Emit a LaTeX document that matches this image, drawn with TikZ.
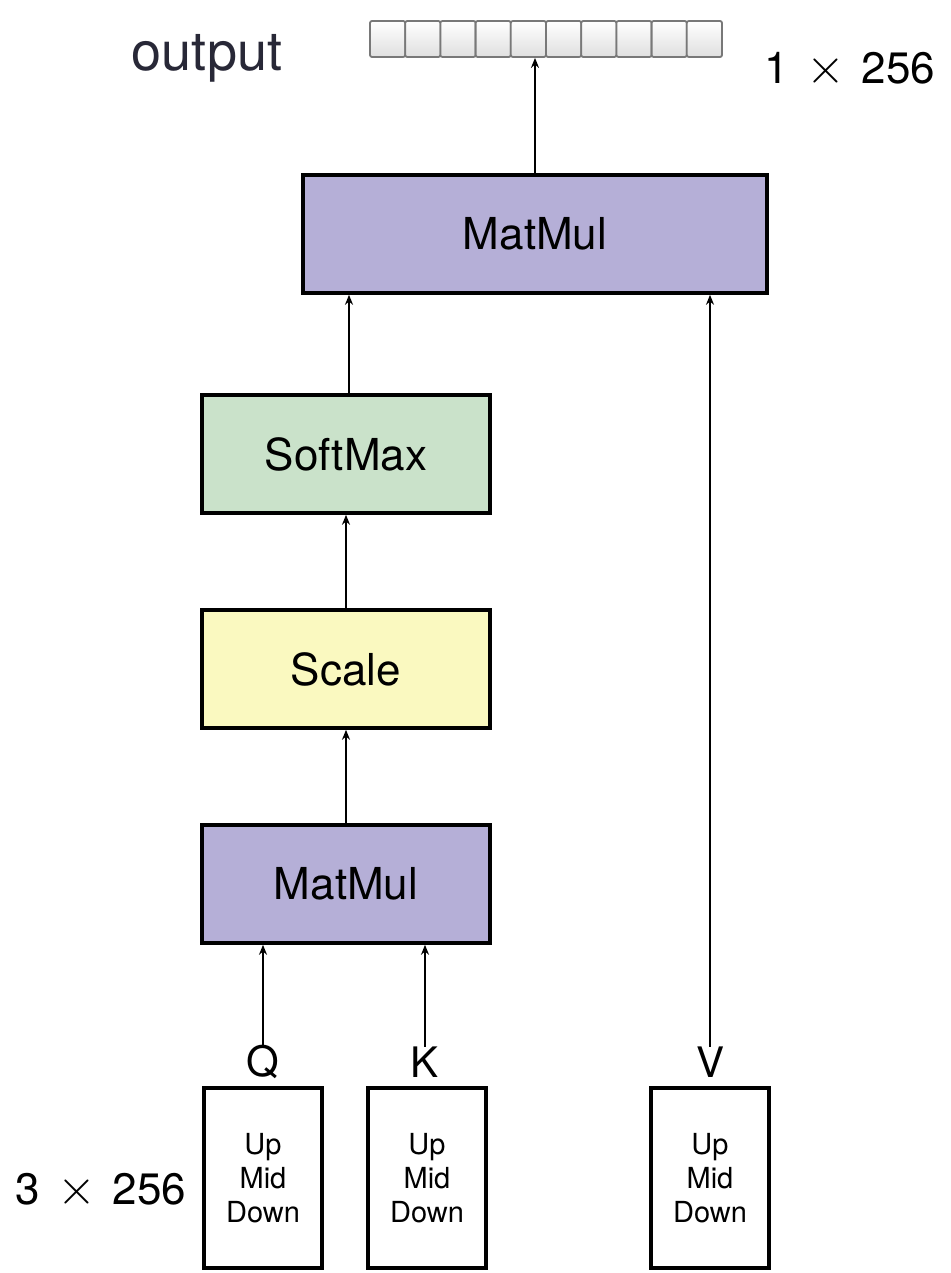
\documentclass[tikz,border=0pt]{standalone}
\usepackage{fontspec}
\usepackage{graphicx}
\setmainfont{TeX Gyre Heros}
\usetikzlibrary{arrows.meta,positioning}
\definecolor{mmfill}{RGB}{181,175,215}
\definecolor{smfill}{RGB}{202,226,202}
\definecolor{scfill}{RGB}{250,249,192}
\definecolor{cellline}{RGB}{120,120,120}
\newcommand{\bigtimes}{\hspace*{17pt}\scalebox{5}{\fontsize{10}{10}\selectfont$\times$}\hspace*{17pt}}
\tikzset{
  opbox/.style={draw=black, line width=3.6pt, minimum height=118pt, inner sep=0pt,
    font=\fontsize{44}{50}\selectfont},
  inbox/.style={draw=black, line width=3.6pt, minimum width=118pt, minimum height=180pt,
    inner sep=0pt, align=center, font=\fontsize{29}{34}\selectfont},
  lab/.style={inner sep=0pt, font=\fontsize{44}{50}\selectfont},
  cell/.style={draw=cellline, line width=1.8pt, minimum width=35.2pt, minimum height=36pt,
    inner sep=0pt, top color=white, bottom color=gray!25, rounded corners=2pt},
  conn/.style={line width=2.8pt, -{Stealth[length=10pt,width=8pt]}},
}
\begin{document}
\begin{tikzpicture}[x=1pt,y=-1pt]
\useasboundingbox (0,0) rectangle (950,1273);
% output cells
\foreach \i in {0,...,9}{
  \node[cell] (c\i) at ({370+35.2*\i+17.6},39) {};
}
\node[lab, font=\fontsize{54}{60}\selectfont, text={rgb,255:red,40;green,40;blue,55}, anchor=base] (outlab) at (207,71) {output};
\node[lab, anchor=base] (outdim) at (850,84) {1\bigtimes 256};
% operation boxes
\node[opbox, fill=mmfill, minimum width=464pt] (mm1) at (535,234) {MatMul};
\node[opbox, fill=smfill, minimum width=288pt] (sm) at (346,454) {SoftMax};
\node[opbox, fill=scfill, minimum width=288pt] (sc) at (346,669) {Scale};
\node[opbox, fill=mmfill, minimum width=288pt] (mm2) at (346,884) {MatMul};
% inputs
\node[inbox] (qb) at (263,1178) {Up\\Mid\\Down};
\node[inbox] (kb) at (427,1178) {Up\\Mid\\Down};
\node[inbox] (vb) at (710,1178) {Up\\Mid\\Down};
\node[lab, font=\fontsize{42}{48}\selectfont] (q) at (263,1062) {Q};
\node[lab, font=\fontsize{42}{48}\selectfont] (k) at (425,1062) {K};
\node[lab, font=\fontsize{42}{48}\selectfont] (v) at (710,1062) {V};
\node[lab, anchor=base] (indim) at (101,1204) {3\bigtimes 256};
% connectors
\coordinate (topend) at (mm1.north |- c4.south);
\draw[conn] (mm1.north) -- (topend);
\draw[conn] (sm.north -| 349,0) -- (mm1.south -| 349,0);
\draw[conn] (v.north) -- (mm1.south -| v.north);
\draw[conn] (sc.north) -- (sm.south);
\draw[conn] (mm2.north) -- (sc.south);
\draw[conn] (q.north) -- (mm2.south -| q.north);
\draw[conn] (k.north) -- (mm2.south -| k.north);
\end{tikzpicture}
\end{document}
